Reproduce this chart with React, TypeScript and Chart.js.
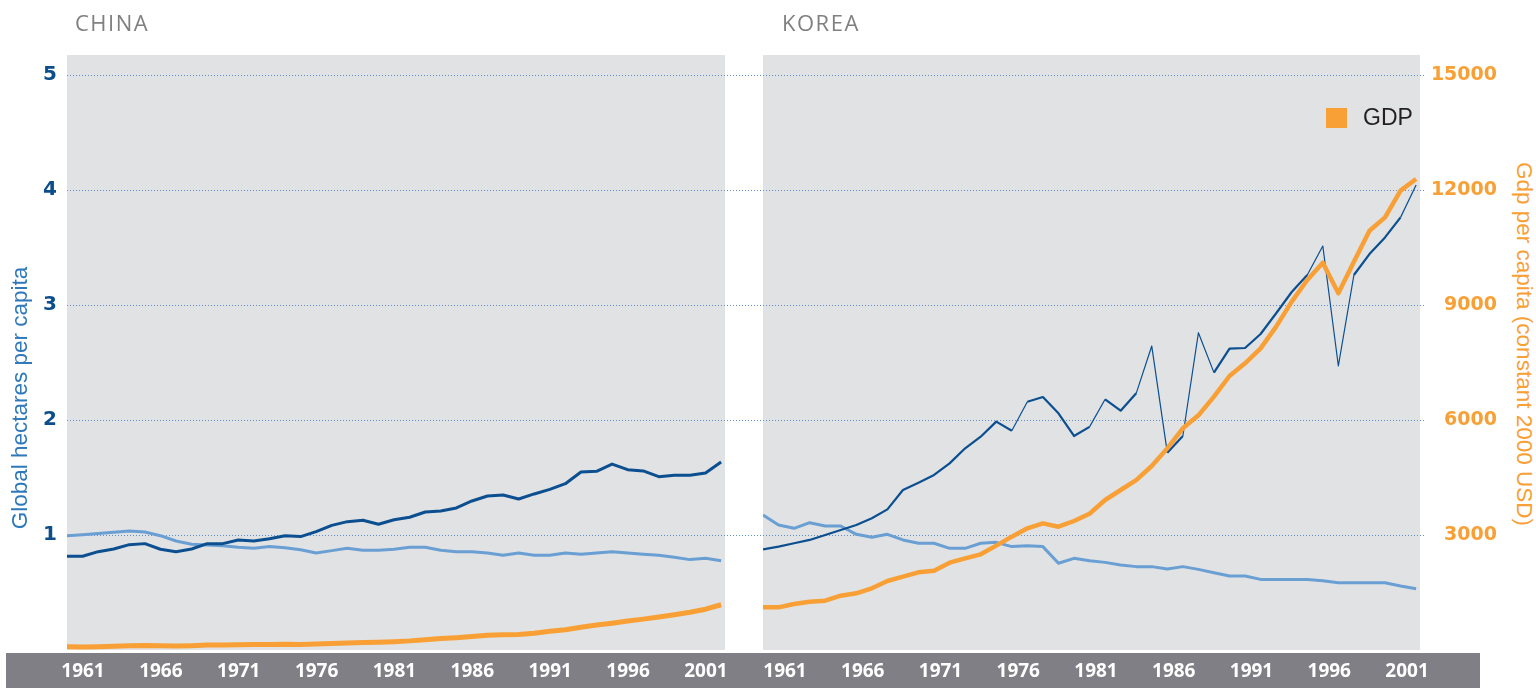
import React, { useEffect, useRef } from "react";
import { Chart, registerables } from "chart.js";

Chart.register(...registerables);

// ---------------- data ----------------
const YEARS = [
  1961, 1962, 1963, 1964, 1965, 1966, 1967, 1968, 1969, 1970,
  1971, 1972, 1973, 1974, 1975, 1976, 1977, 1978, 1979, 1980,
  1981, 1982, 1983, 1984, 1985, 1986, 1987, 1988, 1989, 1990,
  1991, 1992, 1993, 1994, 1995, 1996, 1997, 1998, 1999, 2000,
  2001, 2002, 2003,
];
const X_TICK_YEARS = [1961, 1966, 1971, 1976, 1981, 1986, 1991, 1996, 2001];
const HECTARE_TICKS = [1, 2, 3, 4, 5];
const GDP_TICKS = [3000, 6000, 9000, 12000, 15000];

const CHINA_FOOTPRINT = [
  0.815, 0.815, 0.855, 0.878, 0.916, 0.925, 0.876, 0.855, 0.878, 0.925,
  0.925, 0.957, 0.948, 0.968, 0.994, 0.986, 1.029, 1.084, 1.116, 1.128,
  1.093, 1.133, 1.154, 1.2, 1.209, 1.235, 1.296, 1.339, 1.348, 1.313,
  1.357, 1.397, 1.446, 1.548, 1.554, 1.617, 1.568, 1.557, 1.507, 1.519,
  1.519, 1.539, 1.635,
];
const CHINA_BIOCAPACITY = [
  0.994, 1.003, 1.014, 1.023, 1.035, 1.026, 0.994, 0.948, 0.919, 0.913,
  0.907, 0.893, 0.884, 0.901, 0.89, 0.872, 0.843, 0.864, 0.884, 0.867,
  0.867, 0.877, 0.893, 0.893, 0.867, 0.855, 0.855, 0.843, 0.823, 0.843,
  0.823, 0.823, 0.843, 0.832, 0.843, 0.855, 0.843, 0.832, 0.823, 0.806,
  0.786, 0.797, 0.777,
];
const CHINA_GDP = [
  85, 78, 84, 96, 108, 116, 108, 102, 114, 128,
  132, 134, 141, 142, 150, 146, 156, 172, 183, 195,
  203, 218, 238, 270, 300, 322, 352, 385, 395, 403,
  435, 490, 530, 595, 650, 700, 755, 805, 860, 920,
  985, 1065, 1180,
];
const KOREA_FOOTPRINT = [
  0.875, 0.899, 0.928, 0.957, 1.0, 1.043, 1.087, 1.145, 1.223, 1.391,
  1.455, 1.522, 1.623, 1.754, 1.855, 1.986, 1.907, 2.159, 2.2, 2.058,
  1.861, 1.94, 2.18, 2.081, 2.232, 2.643, 1.716, 1.861, 2.759, 2.412,
  2.62, 2.626, 2.748, 2.928, 3.113, 3.261, 3.513, 2.47, 3.261, 3.443,
  3.588, 3.762, 4.043,
];
const KOREA_BIOCAPACITY = [
  1.174, 1.087, 1.058, 1.107, 1.078, 1.078, 1.006, 0.98, 1.006, 0.957,
  0.928, 0.928, 0.884, 0.884, 0.928, 0.936, 0.899, 0.907, 0.899, 0.754,
  0.797, 0.777, 0.762, 0.739, 0.725, 0.725, 0.704, 0.725, 0.701, 0.672,
  0.643, 0.643, 0.614, 0.614, 0.614, 0.614, 0.603, 0.585, 0.585, 0.585,
  0.585, 0.557, 0.533,
];
const KOREA_GDP = [
  1113, 1113, 1200, 1261, 1287, 1417, 1478, 1609, 1800, 1913,
  2026, 2070, 2278, 2391, 2496, 2722, 2957, 3174, 3304, 3217,
  3365, 3556, 3913, 4174, 4430, 4800, 5260, 5783, 6122, 6609,
  7148, 7478, 7870, 8435, 9087, 9652, 10104, 9304, 10130, 10939,
  11287, 11983, 12287,
];

// ---------------- scale config ----------------
const HECTARE_MAX = 5.174;
const GDP_MAX = 15522;
const X_MIN = 1961;
const X_MAX = 2003.25;

// ---------------- styles ----------------
const DARK_BLUE = "#0b4f90";
const LIGHT_BLUE = "#6a9fd4";
const ORANGE = "#f8a035";
const PANEL_GRAY = "#e1e2e4";
const BAND_GRAY = "#807f85";
const GRID_BLUE = "#5f8fca";
const TICK_FONT = "'Open Sans', 'Liberation Sans', sans-serif";
const VALUE_FONT = "'DejaVu Sans', 'Open Sans', sans-serif";
const TEXT_FONT = "'Liberation Sans', Arial, sans-serif";

const toPoints = (vals: number[]) => YEARS.map((x, i) => ({ x, y: vals[i] }));

const panelDecor = {
  id: "panelDecor",
  beforeDraw(chart: any, _args: any, opts: any) {
    const { ctx, chartArea } = chart;
    ctx.save();
    ctx.fillStyle = PANEL_GRAY;
    ctx.fillRect(
      chartArea.left,
      chartArea.top,
      chartArea.right - chartArea.left,
      chartArea.bottom - chartArea.top
    );
    const scale = chart.scales[opts.scaleId];
    const x0 = opts.fromArea ? chartArea.left : 0;
    const x1 = opts.fromArea ? chart.width : chartArea.right + opts.extend;
    ctx.strokeStyle = GRID_BLUE;
    ctx.lineWidth = 1;
    ctx.setLineDash([1, 2]);
    for (const t of scale.ticks) {
      const y = Math.round(scale.getPixelForValue(t.value)) + 0.5;
      ctx.beginPath();
      ctx.moveTo(x0, y);
      ctx.lineTo(x1, y);
      ctx.stroke();
    }
    ctx.restore();
  },
};

const xScale = (labelOffset: number) => ({
  type: "linear",
  min: X_MIN,
  max: X_MAX,
  grid: { display: false, drawTicks: false },
  border: { display: false },
  afterBuildTicks: (s: any) => {
    s.ticks = X_TICK_YEARS.map((v) => ({ value: v }));
  },
  afterFit: (s: any) => {
    s.height = 38;
    s.paddingLeft = 0;
    s.paddingRight = 0;
  },
  ticks: {
    color: "#ffffff",
    font: { family: TICK_FONT, size: 19, weight: "bold" },
    padding: 10,
    labelOffset,
    autoSkip: false,
    maxRotation: 0,
    minRotation: 0,
    callback: (v: any) => String(v),
  },
});

function makeDatasets(footprint: number[], bio: number[], gdp: number[], korea: boolean) {
  return [
    {
      label: "GDP",
      data: toPoints(gdp),
      yAxisID: "y1",
      borderColor: ORANGE,
      borderWidth: korea ? 4.5 : 5,
      pointRadius: 0,
      tension: 0,
      order: 0,
      borderJoinStyle: "round",
    },
    {
      label: "Ecological footprint",
      data: toPoints(footprint),
      yAxisID: "y",
      borderColor: DARK_BLUE,
      borderWidth: korea ? 2.2 : 3,
      pointRadius: 0,
      tension: 0,
      order: 1,
      borderJoinStyle: "round",
      segment: korea
        ? {
            borderWidth: (c: any) =>
              Math.abs(c.p1.parsed.y - c.p0.parsed.y) > 0.22 ? 1.2 : undefined,
          }
        : undefined,
    },
    {
      label: "Biocapacity",
      data: toPoints(bio),
      yAxisID: "y",
      borderColor: LIGHT_BLUE,
      borderWidth: 3,
      pointRadius: 0,
      tension: 0,
      order: 2,
      borderJoinStyle: "round",
    },
  ];
}

function chinaConfig(): any {
  return {
    type: "line",
    data: { datasets: makeDatasets(CHINA_FOOTPRINT, CHINA_BIOCAPACITY, CHINA_GDP, false) },
    options: {
      responsive: false,
      animation: false,
      layout: { padding: { left: 0, top: 55, right: 20, bottom: 0 } },
      plugins: {
        legend: { display: false },
        tooltip: { enabled: false },
        panelDecor: { scaleId: "y", fromArea: true, extend: 0 },
      },
      scales: {
        x: xScale(16),
        y: {
          position: "left",
          min: 0,
          max: HECTARE_MAX,
          grid: { display: false, drawTicks: false },
          border: { display: false },
          afterBuildTicks: (s: any) => {
            s.ticks = HECTARE_TICKS.map((v) => ({ value: v }));
          },
          afterFit: (s: any) => {
            s.width = 67;
          },
          ticks: {
            color: "#0c4d8c",
            font: { family: VALUE_FONT, size: 20, weight: "bold" },
            padding: 10,
            callback: (v: any) => String(v),
          },
        },
        y1: { position: "right", display: false, min: 0, max: GDP_MAX },
      },
    },
    plugins: [panelDecor],
  };
}

function koreaConfig(): any {
  return {
    type: "line",
    data: { datasets: makeDatasets(KOREA_FOOTPRINT, KOREA_BIOCAPACITY, KOREA_GDP, true) },
    options: {
      responsive: false,
      animation: false,
      layout: { padding: { left: 18, top: 55, right: 0, bottom: 0 } },
      plugins: {
        legend: { display: false },
        tooltip: { enabled: false },
        panelDecor: { scaleId: "y1", fromArea: false, extend: 5 },
      },
      scales: {
        x: xScale(22),
        y: { position: "left", display: false, min: 0, max: HECTARE_MAX },
        y1: {
          position: "right",
          min: 0,
          max: GDP_MAX,
          grid: { display: false, drawTicks: false },
          border: { display: false },
          afterBuildTicks: (s: any) => {
            s.ticks = GDP_TICKS.map((v) => ({ value: v }));
          },
          afterFit: (s: any) => {
            s.width = 77;
          },
          ticks: {
            color: ORANGE,
            font: { family: VALUE_FONT, size: 19, weight: "bold" },
            padding: 10,
            crossAlign: "far",
            callback: (v: any) => String(v),
          },
        },
      },
    },
    plugins: [panelDecor],
  };
}

function PanelChart({ left, width, makeConfig }: { left: number; width: number; makeConfig: () => any }) {
  const ref = useRef<HTMLCanvasElement>(null);
  useEffect(() => {
    if (!ref.current) return;
    const chart = new Chart(ref.current, makeConfig());
    return () => chart.destroy();
  }, []);
  return (
    <canvas
      ref={ref}
      width={width}
      height={688}
      style={{ position: "absolute", left, top: 0, width, height: 688 }}
    />
  );
}

export default function App() {
  const titleStyle: React.CSSProperties = {
    position: "absolute",
    top: 11,
    fontFamily: "'Open Sans', sans-serif",
    fontSize: 22,
    lineHeight: 1,
    color: "#808080",
    letterSpacing: 1.5,
    whiteSpace: "nowrap",
  };
  const axisTitle = (cx: number, cy: number, rot: number, color: string): React.CSSProperties => ({
    position: "absolute",
    left: cx - 220,
    top: cy - 11,
    width: 440,
    height: 22,
    lineHeight: "22px",
    textAlign: "center",
    transform: `rotate(${rot}deg)`,
    transformOrigin: "center",
    fontFamily: TEXT_FONT,
    fontSize: 22.5,
    color,
    whiteSpace: "nowrap",
  });
  return (
    <div
      style={{
        position: "absolute",
        left: 0,
        top: 0,
        width: 1536,
        height: 688,
        overflow: "hidden",
        background: "#ffffff",
      }}
    >
      <div
        style={{ position: "absolute", left: 6, top: 653, width: 1474, height: 35, background: BAND_GRAY }}
      />
      <PanelChart left={0} width={745} makeConfig={chinaConfig} />
      <PanelChart left={745} width={752} makeConfig={koreaConfig} />
      <div style={{ ...titleStyle, left: 75 }}>CHINA</div>
      <div style={{ ...titleStyle, left: 782 }}>KOREA</div>
      <div style={axisTitle(20, 398, -90, "#2f79ba")}>Global hectares per capita</div>
      <div style={axisTitle(1523.5, 343.5, 90, ORANGE)}>Gdp per capita (constant 2000 USD)</div>
      <div style={{ position: "absolute", left: 1326, top: 108, width: 21, height: 20, background: ORANGE }} />
      <div
        style={{
          position: "absolute",
          left: 1363,
          top: 106,
          fontFamily: TEXT_FONT,
          fontSize: 23,
          lineHeight: 1,
          color: "#231f20",
        }}
      >
        GDP
      </div>
    </div>
  );
}
